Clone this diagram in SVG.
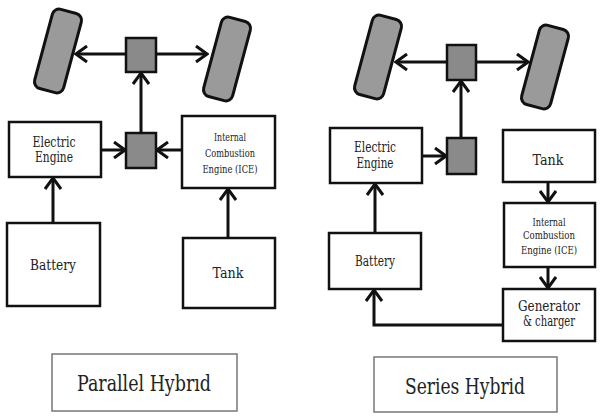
<svg xmlns="http://www.w3.org/2000/svg" width="600" height="416" viewBox="0 0 600 416">
<defs>
<marker id="ah" viewBox="0 0 14 18" refX="12" refY="9" markerWidth="14" markerHeight="18" markerUnits="userSpaceOnUse" orient="auto">
<path d="M1,1 L12,9 L1,17" fill="none" stroke="#111" stroke-width="3" stroke-linejoin="miter"/>
</marker>
</defs>
<style>
.box{fill:#fff;stroke:#111;stroke-width:2.5}
.sq{fill:#8a8a8a;stroke:#111;stroke-width:2.5}
.wheel{fill:#9a9a9a;stroke:#111;stroke-width:3}
.lbl{fill:#fff;stroke:#777;stroke-width:1.5}
.ln{fill:none;stroke:#111;stroke-width:3;marker-end:url(#ah)}
text{fill:#222;text-anchor:middle;font-family:DejaVu Serif, serif;font-stretch:condensed}
.t14{font-size:14px}
.t15{font-size:15px}
.t11{font-size:11px}
.t22{font-size:22px}
</style>
<g id="connectors">
<line class="ln" x1="126" y1="54" x2="76" y2="54"/>
<line class="ln" x1="156" y1="54" x2="207" y2="54"/>
<line class="ln" x1="141" y1="133" x2="141" y2="73"/>
<line class="ln" x1="101" y1="150" x2="125" y2="150"/>
<line class="ln" x1="182" y1="150" x2="157" y2="150"/>
<line class="ln" x1="53" y1="223" x2="53" y2="178"/>
<line class="ln" x1="228" y1="238" x2="228" y2="189"/>
<line class="ln" x1="447" y1="62" x2="396" y2="62"/>
<line class="ln" x1="476" y1="62" x2="528" y2="62"/>
<line class="ln" x1="461" y1="138" x2="461" y2="81"/>
<line class="ln" x1="422" y1="156" x2="446" y2="156"/>
<line class="ln" x1="375" y1="233" x2="375" y2="184"/>
<line class="ln" x1="548" y1="182" x2="548" y2="202"/>
<line class="ln" x1="548" y1="267" x2="548" y2="288"/>
<path class="ln" d="M503,325 L374,325 L374,290"/>
</g>
<g id="p-wheel-left"><rect class="wheel" x="43" y="10" width="30" height="82" rx="7" transform="rotate(15 58 51)"/></g>
<g id="p-wheel-right"><rect class="wheel" x="212" y="18" width="30" height="82" rx="7" transform="rotate(15 227 59)"/></g>
<g id="p-axle"><rect class="sq" x="126" y="38" width="30" height="34"/></g>
<g id="p-gear"><rect class="sq" x="126" y="133" width="30" height="35"/></g>
<g id="p-electric"><rect class="box" x="9" y="122" width="92" height="55"/><text class="t14" x="54" y="147" textLength="43" lengthAdjust="spacingAndGlyphs">Electric</text><text class="t14" x="54" y="162" textLength="38" lengthAdjust="spacingAndGlyphs">Engine</text></g>
<g id="p-ice"><rect class="box" x="182" y="116" width="93" height="72"/><text class="t11" x="230" y="141" textLength="32" lengthAdjust="spacingAndGlyphs">Internal</text><text class="t11" x="230" y="157" textLength="50" lengthAdjust="spacingAndGlyphs">Combustion</text><text class="t11" x="230" y="173" textLength="55" lengthAdjust="spacingAndGlyphs">Engine (ICE)</text></g>
<g id="p-battery"><rect class="box" x="7" y="223" width="93" height="83"/><text class="t15" x="53" y="270" textLength="46" lengthAdjust="spacingAndGlyphs">Battery</text></g>
<g id="p-tank"><rect class="box" x="183" y="238" width="92" height="70"/><text class="t15" x="228" y="278" textLength="31" lengthAdjust="spacingAndGlyphs">Tank</text></g>
<g id="p-label"><rect class="lbl" x="52" y="354" width="185" height="57"/><text class="t22" x="144" y="391" textLength="134" lengthAdjust="spacingAndGlyphs">Parallel Hybrıd</text></g>
<g id="s-electric"><rect class="box" x="330" y="128" width="92" height="55"/><text class="t14" x="375" y="152" textLength="42" lengthAdjust="spacingAndGlyphs">Electric</text><text class="t14" x="375" y="168" textLength="37" lengthAdjust="spacingAndGlyphs">Engine</text></g>
<g id="s-tank"><rect class="box" x="503" y="130" width="92" height="52"/><text class="t15" x="548" y="165" textLength="31" lengthAdjust="spacingAndGlyphs">Tank</text></g>
<g id="s-ice"><rect class="box" x="504" y="203" width="91" height="64"/><text class="t11" x="549" y="226" textLength="33" lengthAdjust="spacingAndGlyphs">Internal</text><text class="t11" x="549" y="239" textLength="52" lengthAdjust="spacingAndGlyphs">Combustion</text><text class="t11" x="549" y="254" textLength="56" lengthAdjust="spacingAndGlyphs">Engine (ICE)</text></g>
<g id="s-generator"><rect class="box" x="503" y="289" width="92" height="52"/><text class="t14" x="549" y="311" textLength="62" lengthAdjust="spacingAndGlyphs">Generator</text><text class="t14" x="549" y="326" textLength="52" lengthAdjust="spacingAndGlyphs">&amp; charger</text></g>
<g id="s-battery"><rect class="box" x="329" y="233" width="92" height="56"/><text class="t15" x="375" y="266" textLength="40" lengthAdjust="spacingAndGlyphs">Battery</text></g>
<g id="s-label"><rect class="lbl" x="374" y="357" width="183" height="55"/><text class="t22" x="465" y="394" textLength="120" lengthAdjust="spacingAndGlyphs">Series Hybrid</text></g>
<g id="s-wheel-left"><rect class="wheel" x="363" y="16" width="30" height="82" rx="7" transform="rotate(15 378 57)"/></g>
<g id="s-wheel-right"><rect class="wheel" x="530" y="26" width="30" height="82" rx="7" transform="rotate(15 545 67)"/></g>
<g id="s-axle"><rect class="sq" x="447" y="45" width="29" height="35"/></g>
<g id="s-gear"><rect class="sq" x="447" y="138" width="29" height="36"/></g>
</svg>
